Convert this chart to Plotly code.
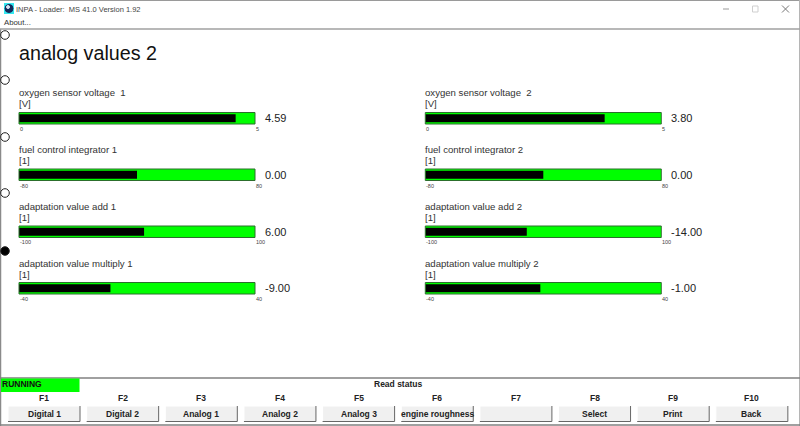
import plotly.graph_objects as go

W, H = 800, 426

gauge_names = ["oxygen sensor voltage\u00a0\u00a01", "fuel control integrator 1",
               "adaptation value add 1", "adaptation value multiply 1",
               "oxygen sensor voltage\u00a0\u00a02", "fuel control integrator 2",
               "adaptation value add 2", "adaptation value multiply 2"]
gauge_units = ["[V]", "[1]", "[1]", "[1]", "[V]", "[1]", "[1]", "[1]"]
gauge_mins = [0, -80, -100, -40, 0, -80, -100, -40]
gauge_maxs = [5, 80, 100, 40, 5, 80, 100, 40]
gauge_values = [4.59, 0.00, 6.00, -9.00, 3.80, 0.00, -14.00, -1.00]

key_labels = ["F1", "F2", "F3", "F4", "F5", "F6", "F7", "F8", "F9", "F10"]
button_labels = ["Digital 1", "Digital 2", "Analog 1", "Analog 2", "Analog 3",
                 "engine roughness", "", "Select", "Print", "Back"]
radio_rows = [35, 80, 137, 193, 251]

SANS = "Liberation Sans"


# pixel position on the 800x426 window -> paper coordinates
def px(x):
    return x / W


def py(y):
    return 1 - y / H


def rect(x0, y0, x1, y1, fill, line=None, width=1):
    return dict(type="rect", xref="paper", yref="paper", layer="below",
                x0=px(x0), x1=px(x1), y0=py(y1), y1=py(y0), fillcolor=fill,
                line=dict(color=line or fill, width=width if line else 0))


def seg(x0, y0, x1, y1, color, width=1):
    return dict(type="line", xref="paper", yref="paper", layer="below",
                x0=px(x0), x1=px(x1), y0=py(y0), y1=py(y1),
                line=dict(color=color, width=width))


def circle(cx, cy, r, fill, line):
    return dict(type="circle", xref="paper", yref="paper", layer="below",
                x0=px(cx - r), x1=px(cx + r), y0=py(cy + r), y1=py(cy - r),
                fillcolor=fill, line=dict(color=line, width=1))


def label(x, y, text, size, color="#222222", anchor="left", bold=False):
    if bold:
        text = "<b>" + text + "</b>"
    return dict(xref="paper", yref="paper", x=px(x), y=py(y), text=text,
                showarrow=False, xanchor=anchor, yanchor="middle",
                font=dict(family=SANS, size=size, color=color),
                borderpad=0, borderwidth=0)


fig = go.Figure()
shapes = []
notes = []
axes = {}

# gauges, one small axis pair each
for i in range(len(gauge_names)):
    col = i // 4
    row = i % 4
    left = 19 if col == 0 else 425.3
    right = left + 236
    top = [112.5, 169, 226, 282.5][row]
    low, high = gauge_mins[i], gauge_maxs[i]
    n = "" if i == 0 else str(i + 1)

    fig.add_trace(go.Bar(x=[high - low], y=[0], base=[low], orientation="h", width=1,
                         marker=dict(color="#00ff00", line=dict(width=0)),
                         xaxis="x" + n, yaxis="y" + n, showlegend=False, hoverinfo="skip"))
    fig.add_trace(go.Bar(x=[gauge_values[i] - low], y=[0], base=[low], orientation="h", width=0.7,
                         marker=dict(color="#000000", line=dict(width=0)),
                         xaxis="x" + n, yaxis="y" + n, showlegend=False, hoverinfo="skip"))

    axes["xaxis" + n] = dict(domain=[px(left), px(right)], range=[low, high], anchor="y" + n,
                             showgrid=False, zeroline=False, showticklabels=False, ticks="",
                             showline=False, fixedrange=True)
    axes["yaxis" + n] = dict(domain=[py(top + 11.5), py(top)], range=[-0.5, 0.5], anchor="x" + n,
                             showgrid=False, zeroline=False, showticklabels=False, ticks="",
                             showline=False, fixedrange=True)

    shapes.append(dict(type="rect", xref="paper", yref="paper", layer="above",
                       x0=px(left), x1=px(right), y0=py(top + 11.5), y1=py(top),
                       line=dict(color="#2c6e2c", width=1), fillcolor="rgba(0,0,0,0)"))

    notes.append(label(left, top - 19.5, gauge_names[i], 9.6, "#333333"))
    notes.append(label(left, top - 8.5, gauge_units[i], 9.6, "#333333"))
    notes.append(label(right + 10, top + 5.5, f"{gauge_values[i]:.2f}", 11, "#222222"))
    notes.append(dict(xref="x" + n + " domain", yref="paper", x=0, y=py(top + 16.5),
                      text=str(low), showarrow=False, xanchor="left", yanchor="middle", borderpad=0,
                      font=dict(family=SANS, size=5.5, color="#444444")))
    notes.append(dict(xref="x" + n + " domain", yref="paper", x=1, y=py(top + 16.5),
                      text=str(high), showarrow=False, xanchor="left", yanchor="middle", borderpad=0,
                      font=dict(family=SANS, size=5.5, color="#444444")))

# window frame
shapes += [
    seg(0, 0.5, 800, 0.5, "#9a9a9a", 1),
    seg(0.5, 29, 0.5, 426, "#8a8a8a", 1.5),
    seg(799.5, 0, 799.5, 426, "#b5b5b5", 1),
    seg(0, 29, 800, 29, "#a0a0a0", 1.5),
    seg(0, 378, 800, 378, "#808080", 1.5),
    seg(0, 425, 800, 425, "#808080", 1.5),
]

# title bar
shapes.append(rect(4, 3, 14, 14, "#35e8f0"))
shapes.append(circle(9, 8.5, 4, "#14285a", "#14285a"))
shapes.append(circle(8, 7, 1.5, "#d8e4f4", "#d8e4f4"))
shapes.append(seg(723, 9, 729, 9, "#9a9a9a", 1))
shapes.append(rect(752.5, 6, 758, 12, "#ffffff", "#cfcfcf", 1))
shapes.append(seg(782, 5.5, 789, 12.5, "#777777", 1))
shapes.append(seg(789, 5.5, 782, 12.5, "#777777", 1))
notes.append(label(16, 9.5, "INPA - Loader:\u00a0\u00a0MS 41.0 Version 1.92", 7.5, "#444444"))
notes.append(label(3.5, 22.5, "About...", 7.8, "#333333"))

# radio buttons
for j, ry in enumerate(radio_rows):
    last = j == len(radio_rows) - 1
    shapes.append(circle(5, ry, 4.3, "#000000" if last else "#ffffff", "#222222"))

notes.append(label(19, 53.5, "analog values 2", 19.7, "#111111"))

# status bar
shapes.append(rect(1, 378.5, 79.5, 392, "#00ff00"))
notes.append(label(2, 384, "RUNNING", 8.5, "#111111", bold=True))
notes.append(label(398, 384, "Read status", 8.5, "#222222", anchor="center", bold=True))

# function keys
for k in range(len(key_labels)):
    x0 = 8 + 78.65 * k
    x1 = x0 + 72
    shapes.append(rect(x0, 406, x1, 421, "#f0f0f0"))
    shapes.append(seg(x0, 406, x1, 406, "#ffffff", 1))
    shapes.append(seg(x0, 406, x0, 421, "#ffffff", 1))
    shapes.append(seg(x1, 406, x1, 421.5, "#666666", 1))
    shapes.append(seg(x0, 421.5, x1, 421.5, "#666666", 1))
    notes.append(label((x0 + x1) / 2, 398, key_labels[k], 8.5, "#222222", anchor="center", bold=True))
    if button_labels[k]:
        notes.append(label((x0 + x1) / 2, 413.5, button_labels[k], 8.5, "#222222", anchor="center", bold=True))

fig.update_layout(width=W, height=H, margin=dict(l=0, r=0, t=0, b=0), autosize=False,
                  paper_bgcolor="#ffffff", plot_bgcolor="#ffffff", barmode="overlay",
                  showlegend=False, shapes=shapes, annotations=notes, **axes)

fig.write_html("out.html", config=dict(displayModeBar=False),
               post_script="document.body.style.margin='0';document.body.style.overflow='hidden';")
